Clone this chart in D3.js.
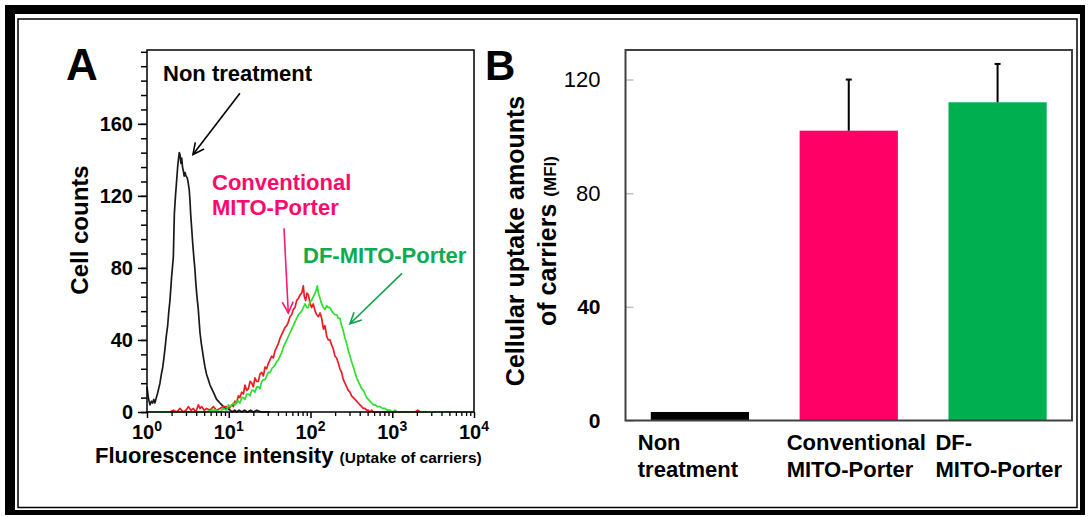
<!DOCTYPE html>
<html>
<head>
<meta charset="utf-8">
<script src="https://cdn.jsdelivr.net/npm/d3@7"></script>
<style>
  body { margin: 0; background: #fff; }
  text { font-family: "Liberation Sans", Arial, sans-serif; }
</style>
</head>
<body>
<svg id="fig" width="1088" height="517"></svg>
<script>
/* ============================================================
   Panel A: flow cytometry histograms / Panel B: MFI bars
   ============================================================ */

// --- Panel A data (intensity, cell count) ---
const nonX = [1.0, 1.03, 1.06, 1.09, 1.13, 1.17, 1.21, 1.25, 1.3, 1.34, 1.39, 1.44, 1.5, 1.56, 1.61, 1.66,
  1.72, 1.79, 1.85, 1.91, 2.0, 2.1, 2.13, 2.16, 2.23, 2.31, 2.37, 2.42, 2.48, 2.53, 2.6, 2.66, 2.72, 2.78,
  2.85, 2.92, 3.0, 3.11, 3.2, 3.29, 3.36, 3.42, 3.52, 3.62, 3.74, 3.86, 3.95, 4.05, 4.15, 4.24, 4.35, 4.45,
  4.62, 4.8, 4.95, 5.12, 5.35, 5.62, 5.9, 6.18, 6.48, 6.79, 7.1, 7.45, 7.8, 8.2, 8.6, 9.0, 9.6, 10.4, 11,
  11.8, 12.5, 13.4, 14.5, 15.5, 17, 18.5, 20, 22, 25, 28, 32];
const nonY = [14, 9, 6, 4, 6, 5, 7, 5, 8, 10, 13, 16, 21, 25, 30, 35,
  42, 48, 56, 62, 75, 86, 98, 110, 120, 129, 136, 140, 144, 143, 138, 141, 136, 134,
  131, 133, 131, 130, 127, 123, 117, 110, 102, 94, 86, 79, 72, 66, 61, 57, 50, 44,
  38, 33, 29, 25, 21, 18, 15, 13, 11, 9, 7, 6, 5, 4, 3, 2, 2, 1, 0,
  1, 0, 1, 0, 1, 0, 1, 0, 1, 0, 0, 0];

const convX = [1.9, 2.1, 2.31, 2.53, 2.78, 3.0, 3.2, 3.45, 3.69, 3.95, 4.25, 4.45, 4.66, 5.0, 5.37, 5.9,
  6.48, 7.11, 7.82, 8.58, 9.43, 10.2, 10.9, 11.4, 11.9, 12.5, 13.1, 13.7, 14.4, 15.1, 15.8, 16.6, 17.4,
  18.2, 19.1, 20.0, 20.9, 21.9, 23.0, 24.1, 25.3, 26.5, 27.8, 29.1, 30.5, 32.0, 33.5, 35.1, 36.8, 38.6,
  40.4, 42.4, 44.4, 46.6, 48.8, 51.2, 53.6, 56.2, 58.9, 61.7, 64.6, 67.8, 71.0, 74.5, 78.0, 81.7, 84,
  87.3, 90.5, 94.1, 98, 103, 108, 114, 119, 125, 131, 137, 144, 150, 158, 165, 173, 182, 190, 199, 209,
  219, 229, 240, 252, 264, 277, 290, 304, 318, 334, 350, 367, 384, 403, 422, 443, 464, 486, 510, 534,
  560, 587, 615, 700, 800, 1000, 1900, 2050, 2200];
const convY = [0, 1, 0, 2, 0, 1, 3, 1, 2, 0, 4, 2, 3, 1, 2, 1,
  3, 1, 2, 3, 3, 2, 4, 3, 6, 5, 9, 8, 11, 10, 15, 12, 13,
  17, 16, 14, 19, 17, 17, 21, 22, 20, 25, 24, 27, 29, 31, 30, 34, 36,
  38, 41, 43, 45, 47, 48, 50, 53, 54, 57, 58, 62, 63, 65, 66, 70, 64,
  62, 66, 65, 61, 58, 60, 56, 54, 53, 55, 52, 46, 48, 42, 40, 40, 37, 35, 31, 30,
  27, 24, 22, 18, 16, 14, 12, 11, 9, 8, 7, 6, 5, 4, 3, 2, 2, 1, 1, 0,
  1, 0, 0, 0, 0, 0, 0, 1, 0];

const dfX = [1.0, 5.0, 6.48, 7.11, 7.82, 8.58, 9.43, 9.88, 10.4, 10.9, 11.4, 12.1, 12.5, 13.1, 13.7, 14.4,
  15.1, 15.8, 16.6, 17.4, 18.2, 19.1, 20.0, 20.9, 22.0, 23.0, 24.1, 25.3, 26.5, 27.8, 29.1, 30.5, 32.0,
  33.5, 35.1, 36.8, 38.6, 40.4, 42.4, 44.4, 46.6, 48.8, 51.2, 53.6, 56.2, 58.9, 61.7, 64.6, 67.8, 71.0,
  74.5, 78.0, 81.7, 85.7, 90, 94.1, 98, 103, 108, 114, 118, 121, 125, 131, 137, 144, 150, 158, 165, 173,
  182, 190, 199, 209, 219, 229, 240, 252, 264, 277, 290, 304, 318, 334, 350, 367, 384, 403, 422, 443,
  464, 486, 510, 534, 560, 587, 615, 660, 708, 760, 815, 875, 938, 1000, 1080, 1150, 1400, 10000];
const dfY = [0, 0, 1, 1, 0, 2, 1, 4, 3, 4, 5, 4, 6, 6, 5, 8,
  8, 7, 10, 10, 9, 12, 12, 11, 14, 14, 13, 17, 18, 18, 20, 22, 22,
  24, 25, 26, 28, 29, 31, 33, 36, 38, 40, 42, 44, 46, 48, 50, 52, 54,
  55, 56, 58, 60, 58, 58, 61, 62, 64, 66, 68, 70, 66, 63, 60, 58, 57, 59, 58, 58,
  56, 55, 54, 54, 52, 52, 48, 45, 41, 38, 34, 31, 28, 25, 22, 19, 17, 15, 13, 12,
  10, 8, 7, 6, 5, 4, 4, 3, 3, 2, 2, 1, 1, 0, 1, 0, 0, 0];

const histX = [1, 10000];
const histCountTicks = [0, 40, 80, 120, 160];
const histMinorStep = 8;
const histCountMax = 201;

// annotations anchored in data space: [intensity, count]
const annoTexts = [
  { lines: ["Non treatment"], at: [1.57, 184], color: "#000" },
  { lines: ["Conventional", "MITO-Porter"], at: [6.24, 123], color: "#ff0a6c" },
  { lines: ["DF-MITO-Porter"], at: [81, 83], color: "#0daa50" }
];
const annoArrows = [
  { from: [13.7, 177], to: [3.65, 143], color: "#000" },
  { from: [47.4, 102], to: [53.5, 55], color: "#ff1a75" },
  { from: [1316, 77], to: [304, 49], color: "#12a04c" }
];

// --- Panel B data ---
const groupLabels = [["Non", "treatment"], ["Conventional", "MITO-Porter"], ["DF-", "MITO-Porter"]];
const groupMFI = [3, 102, 112];
const groupErr = [0, 18, 13.5];
const groupColors = ["#000000", "#ff0066", "#00b050"];
const mfiTicks = [0, 40, 80, 120];
const mfiMax = 130.4;

const svg = d3.select('#fig');

// --- Frame ---
svg.append('path')
  .attr('d', 'M5,5H1085V515H5Z M15,14H1080V510H15Z')
  .attr('fill', '#000').attr('fill-rule', 'evenodd');
svg.append('rect').attr('x', 18).attr('y', 19).attr('width', 1059).attr('height', 488.5)
  .attr('fill', 'none').attr('stroke', '#000').attr('stroke-width', 1.5);

// arrow markers
const defs = svg.append('defs');
annoArrows.forEach((a, i) => {
  defs.append('marker').attr('id', 'ah' + i)
    .attr('markerUnits', 'userSpaceOnUse').attr('markerWidth', 14).attr('markerHeight', 14)
    .attr('viewBox', '0 0 14 14').attr('refX', 12).attr('refY', 7).attr('orient', 'auto')
    .append('path').attr('d', 'M1,1.5L12,7L1,12.5')
    .attr('fill', 'none').attr('stroke', a.color).attr('stroke-width', 1.6);
});

/* ---------------- Panel A ---------------- */
const ax = d3.scaleLog().domain(histX).range([147, 474]);
const ay = d3.scaleLinear().domain([0, histCountMax]).range([412, 50]);

const gA = svg.append('g');

// histograms
const histLine = d3.line().x(d => ax(d[0])).y(d => ay(d[1]));
const series = [
  { x: nonX, y: nonY, color: '#1a1a1a', w: 1.7 },
  { x: convX, y: convY, color: '#ee1c24', w: 1.7 },
  { x: dfX, y: dfY, color: '#2ee02e', w: 1.7 }
];
series.forEach(s => {
  gA.append('path').datum(s.x.map((v, i) => [v, s.y[i]]))
    .attr('d', histLine).attr('fill', 'none')
    .attr('stroke', s.color).attr('stroke-width', s.w).attr('stroke-linejoin', 'round');
});

// box
gA.append('rect').attr('x', ax(histX[0])).attr('y', ay(histCountMax))
  .attr('width', ax(histX[1]) - ax(histX[0])).attr('height', ay(0) - ay(histCountMax))
  .attr('fill', 'none').attr('stroke', '#000').attr('stroke-width', 1.5);

// y axis ticks
const yMinor = d3.range(0, histCountMax, histMinorStep);
gA.append('g').attr('transform', `translate(${ax(histX[0])},0)`)
  .call(d3.axisLeft(ay).tickValues(yMinor).tickSize(6).tickFormat(''))
  .call(g => g.select('.domain').remove())
  .call(g => g.selectAll('line').attr('stroke', '#000').attr('stroke-width', 1.5));
gA.append('g').attr('transform', `translate(${ax(histX[0])},0)`)
  .call(d3.axisLeft(ay).tickValues(histCountTicks).tickSize(9).tickPadding(5))
  .call(g => g.select('.domain').remove())
  .call(g => g.selectAll('line').attr('stroke', '#000').attr('stroke-width', 1.5))
  .call(g => g.selectAll('text').attr('font-size', 20).attr('font-weight', 'bold')
    .attr('fill', '#000').attr('font-family', '"Liberation Sans", Arial, sans-serif'));

// x axis ticks (log)
const decades = [0, 1, 2, 3, 4];
const xMinor = [];
decades.slice(0, -1).forEach(k => { for (let m = 2; m <= 9; m++) xMinor.push(m * Math.pow(10, k)); });
gA.append('g').attr('transform', `translate(0,${ay(0)})`)
  .call(d3.axisBottom(ax).tickValues(xMinor).tickSize(4).tickFormat(''))
  .call(g => g.select('.domain').remove())
  .call(g => g.selectAll('line').attr('stroke', '#000').attr('stroke-width', 1.3));
const xMajor = decades.map(k => Math.pow(10, k));
gA.append('g').attr('transform', `translate(0,${ay(0)})`)
  .call(d3.axisBottom(ax).tickValues(xMajor).tickSize(6).tickFormat(''))
  .call(g => g.select('.domain').remove())
  .call(g => g.selectAll('line').attr('stroke', '#000').attr('stroke-width', 1.5));
xMajor.forEach((v, i) => {
  const t = gA.append('text').attr('x', ax(v)).attr('y', 439).attr('text-anchor', 'middle')
    .attr('font-weight', 'bold').attr('fill', '#000');
  t.append('tspan').attr('font-size', 20).text('10');
  t.append('tspan').attr('font-size', 14).attr('dy', -8).text(decades[i]);
});

// axis titles
const xt = gA.append('text').attr('x', 95).attr('y', 463).attr('font-weight', 'bold').attr('fill', '#000');
xt.append('tspan').attr('font-size', 22).text('Fluorescence intensity ');
xt.append('tspan').attr('font-size', 15.5).text('(Uptake of carriers)');
gA.append('text').attr('transform', 'translate(88,230) rotate(-90)').attr('text-anchor', 'middle')
  .attr('font-size', 24).attr('font-weight', 'bold').attr('fill', '#000').text('Cell counts');
gA.append('text').attr('x', 66).attr('y', 80).attr('font-size', 44).attr('font-weight', 'bold')
  .attr('fill', '#000').text('A');

// annotations
annoTexts.forEach(a => {
  a.lines.forEach((ln, j) => {
    gA.append('text').attr('x', ax(a.at[0])).attr('y', ay(a.at[1]) + j * 25)
      .attr('font-size', 22).attr('font-weight', 'bold').attr('fill', a.color).text(ln);
  });
});
annoArrows.forEach((a, i) => {
  gA.append('line')
    .attr('x1', ax(a.from[0])).attr('y1', ay(a.from[1]))
    .attr('x2', ax(a.to[0])).attr('y2', ay(a.to[1]))
    .attr('stroke', a.color).attr('stroke-width', 1.6)
    .attr('marker-end', `url(#ah${i})`);
});

/* ---------------- Panel B ---------------- */
const bx = d3.scaleBand().domain(d3.range(groupMFI.length)).range([625.5, 1072])
  .paddingInner(0.34).paddingOuter(0.17);
const by = d3.scaleLinear().domain([0, mfiMax]).range([420.5, 50]);

const gB = svg.append('g');

// ticks (inside, light grey)
gB.append('g').attr('transform', `translate(625.5,0)`)
  .call(d3.axisLeft(by).tickValues(mfiTicks).tickSize(-8).tickPadding(25))
  .call(g => g.select('.domain').remove())
  .call(g => g.selectAll('line').attr('stroke', '#c0c0c0').attr('stroke-width', 1.5))
  .call(g => g.selectAll('text').attr('fill', '#000')
    .attr('font-family', d => d >= 80 ? 'Lato, "Open Sans", sans-serif' : '"Liberation Sans", Arial, sans-serif')
    .attr('font-size', d => d >= 80 ? 22 : 21)
    .attr('font-weight', d => d >= 80 ? 'normal' : 'bold'));

// bars
gB.selectAll('rect.bar').data(groupMFI).join('rect').attr('class', 'bar')
  .attr('x', (d, i) => bx(i)).attr('width', bx.bandwidth())
  .attr('y', d => by(d)).attr('height', d => by(0) - by(d))
  .attr('fill', (d, i) => groupColors[i]);

// error bars
groupMFI.forEach((v, i) => {
  if (!groupErr[i]) return;
  const cx = bx(i) + bx.bandwidth() / 2;
  gB.append('line').attr('x1', cx).attr('x2', cx).attr('y1', by(v)).attr('y2', by(v + groupErr[i]))
    .attr('stroke', '#000').attr('stroke-width', 2);
  gB.append('line').attr('x1', cx - 3).attr('x2', cx + 3)
    .attr('y1', by(v + groupErr[i])).attr('y2', by(v + groupErr[i]))
    .attr('stroke', '#000').attr('stroke-width', 2);
});

// box
gB.append('rect').attr('x', 625.5).attr('y', by(mfiMax)).attr('width', 1072 - 625.5)
  .attr('height', by(0) - by(mfiMax))
  .attr('fill', 'none').attr('stroke', '#404040').attr('stroke-width', 2);

// category labels
groupLabels.forEach((lines, i) => {
  lines.forEach((ln, j) => {
    gB.append('text').attr('x', bx(i) - 13).attr('y', 450 + j * 27)
      .attr('font-size', 22).attr('font-weight', 'bold').attr('fill', '#000').text(ln);
  });
});

// y title
gB.append('text').attr('transform', 'translate(524,241) rotate(-90)').attr('text-anchor', 'middle')
  .attr('font-size', 25).attr('font-weight', 'bold').attr('fill', '#000').text('Cellular uptake amounts');
const yt2 = gB.append('text').attr('transform', 'translate(556,241) rotate(-90)').attr('text-anchor', 'middle')
  .attr('font-weight', 'bold').attr('fill', '#000');
yt2.append('tspan').attr('font-size', 25).text('of carriers ');
yt2.append('tspan').attr('font-size', 17).text('(MFI)');

gB.append('text').attr('x', 485).attr('y', 80).attr('font-size', 42).attr('font-weight', 'bold')
  .attr('fill', '#000').text('B');
</script>
</body>
</html>
